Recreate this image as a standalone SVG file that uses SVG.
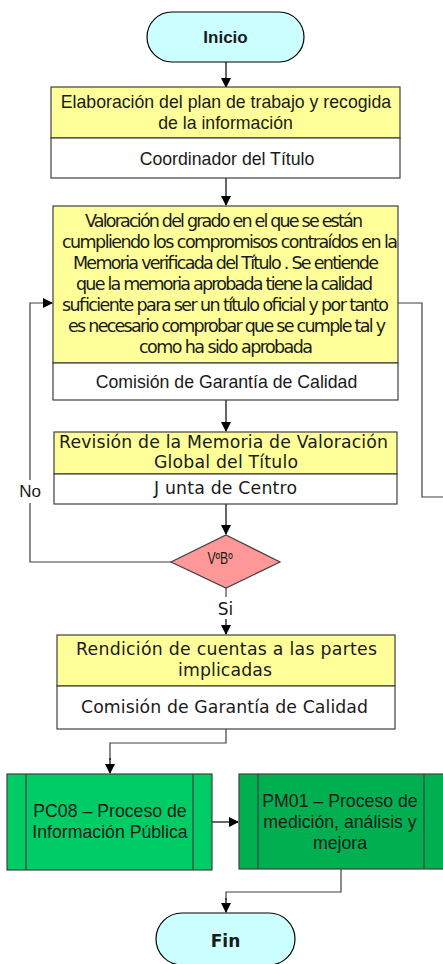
<svg xmlns="http://www.w3.org/2000/svg" width="443" height="964" viewBox="0 0 443 964">
<style>
.box{stroke:#404040;stroke-width:1.2}
.yel{fill:#ffff99}
.wht{fill:#ffffff}
.term{fill:#ccffff;stroke:#000;stroke-width:1.2}
.ln{fill:none;stroke:#404040;stroke-width:1.2}
.ar{fill:none;stroke:#000;stroke-width:1.2}
.ls{font-family:"Liberation Sans",Arial,sans-serif;font-size:17.7px;fill:#1a1a1a;text-anchor:middle}
.dv{font-family:"DejaVu Sans",sans-serif;font-size:17.3px;fill:#1a1a1a;text-anchor:middle}
.cd{font-family:"DejaVu Sans",sans-serif;font-size:17.5px;fill:#1a1a1a;text-anchor:middle}
.g1{fill:#00cc66}
.g2{fill:#00b050}
</style>
<defs>
<marker id="arr" markerWidth="10" markerHeight="10" refX="9" refY="5" orient="auto" markerUnits="userSpaceOnUse">
<path d="M0,0 L10,5 L0,10 z" fill="#000"/>
</marker>
</defs>
<g id="connectors">
<path class="ar" d="M226,62 V87" marker-end="url(#arr)"/>
<path class="ar" d="M226,178 V205" marker-end="url(#arr)"/>
<path class="ar" d="M226,400 V431" marker-end="url(#arr)"/>
<path class="ar" d="M226,504 V534" marker-end="url(#arr)"/>
<path class="ln" d="M171,562 H30 V503"/>
<path class="ln" d="M30,480 V303 H45"/>
<path class="ar" d="M43,303 H52" marker-end="url(#arr)"/>
<path class="ln" d="M398,303 H422 V497 H443"/>
<path class="ln" d="M226,588 V597"/>
<path class="ar" d="M226,619 V634" marker-end="url(#arr)"/>
<path class="ln" d="M226,729 V743 H110 V760"/>
<path class="ar" d="M110,758 V773" marker-end="url(#arr)"/>
<path class="ar" d="M212,822 H238" marker-end="url(#arr)"/>
<path class="ln" d="M341,869 V892 H226 V900"/>
<path class="ar" d="M226,898 V912" marker-end="url(#arr)"/>
<text class="ls" x="30" y="497" style="font-size:17px">No</text>
<text class="dv" x="225.5" y="615" style="font-size:17px">Si</text>
</g>
<g id="inicio">
<rect class="term" x="147" y="12" width="157" height="50" rx="25" ry="25"/>
<text class="ls" x="225.5" y="43" style="font-weight:bold;font-size:17px">Inicio</text>
</g>
<g id="elaboracion">
<rect class="box yel" x="51" y="87" width="349" height="51"/>
<rect class="box wht" x="51" y="138" width="349" height="40"/>
<text class="ls" x="226" y="108">Elaboración del plan de trabajo y recogida</text>
<text class="ls" x="225.5" y="129">de la información</text>
<text class="ls" x="227" y="165">Coordinador del Título</text>
</g>
<g id="valoracion">
<rect class="box yel" x="53" y="206" width="345" height="157"/>
<rect class="box wht" x="53" y="363" width="345" height="37"/>
<text class="cd" x="224" y="227" textLength="278" lengthAdjust="spacing">Valoración del grado en el que se están</text>
<text class="cd" x="230" y="248" textLength="336" lengthAdjust="spacing">cumpliendo los compromisos contraídos en la</text>
<text class="cd" x="226" y="269" textLength="306" lengthAdjust="spacing">Memoria verificada del Título . Se entiende</text>
<text class="cd" x="224.5" y="290" textLength="297" lengthAdjust="spacing">que la memoria aprobada tiene la calidad</text>
<text class="cd" x="225.5" y="311" textLength="327" lengthAdjust="spacing">suficiente para ser un título oficial y por tanto</text>
<text class="cd" x="227" y="332" textLength="318" lengthAdjust="spacing">es necesario comprobar que se cumple tal y</text>
<text class="cd" x="226" y="353" textLength="174" lengthAdjust="spacing">como ha sido aprobada</text>
<text class="ls" x="226.5" y="388">Comisión de Garantía de Calidad</text>
</g>
<g id="revision">
<rect class="box yel" x="54" y="432" width="343" height="42"/>
<rect class="box wht" x="54" y="474" width="343" height="30"/>
<text class="dv" x="223.5" y="448" textLength="329" lengthAdjust="spacing">Revisión de la Memoria de Valoración</text>
<text class="dv" x="226" y="468" textLength="144" lengthAdjust="spacing">Global del Título</text>
<text class="dv" x="225.5" y="494" textLength="143" lengthAdjust="spacing">J unta de Centro</text>
</g>
<g id="vobo">
<path d="M226,535 L280,562 L226,588 L171,562 z" fill="#ff9999" stroke="#404040" stroke-width="1.2"/>
<text transform="translate(220,563.5) scale(0.74,1)" x="0" y="0" style="font-family:'Liberation Sans',Arial,sans-serif;font-size:16.5px;fill:#1a1a1a;text-anchor:middle">VºBº</text>
</g>
<g id="rendicion">
<rect class="box yel" x="57" y="635" width="338" height="51"/>
<rect class="box wht" x="57" y="686" width="338" height="43"/>
<text class="dv" x="226.5" y="655" textLength="301" lengthAdjust="spacing">Rendición de cuentas a las partes</text>
<text class="dv" x="225" y="676" textLength="94" lengthAdjust="spacing">implicadas</text>
<text class="dv" x="224.5" y="713" textLength="287" lengthAdjust="spacing">Comisión de Garantía de Calidad</text>
</g>
<g id="pc08">
<rect class="box g1" x="7" y="774" width="205" height="96"/>
<path class="ln" d="M26,774 V870 M193,774 V870"/>
<text class="ls" x="110" y="817">PC08 – Proceso de</text>
<text class="ls" x="110" y="838">Información Pública</text>
</g>
<g id="pm01">
<rect class="box g2" x="239" y="774" width="210" height="95"/>
<path class="ln" d="M258,774 V869 M424,774 V869"/>
<text class="ls" x="340" y="807">PM01 – Proceso de</text>
<text class="ls" x="340" y="828">medición, análisis y</text>
<text class="ls" x="340" y="849">mejora</text>
</g>
<g id="fin">
<rect class="term" x="156" y="913" width="139" height="52" rx="26" ry="26"/>
<text class="dv" x="225.5" y="947" style="font-weight:bold;font-size:17px">Fin</text>
</g>
</svg>
